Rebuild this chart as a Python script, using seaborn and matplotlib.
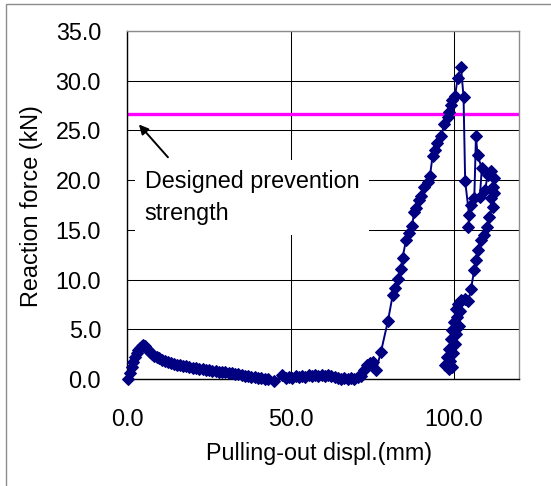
import matplotlib
matplotlib.use("Agg")
import matplotlib.pyplot as plt
from matplotlib.patches import Rectangle
import seaborn as sns
import pandas as pd

# ---- data ----
displ_mm = [
    0.2, 0.8, 1.3, 1.8, 2.3, 2.8, 3.3, 3.8, 4.3, 4.8, 5.3, 5.8, 6.3, 6.9, 7.5,
    8.2, 9.0, 9.8, 10.6, 11.5, 12.4, 13.3, 14.2, 15.1, 16.0, 17.0, 18.0, 19.0,
    20.0, 21.0, 22.0, 23.0, 24.0, 25.0, 26.0, 27.0, 28.0, 29.0, 30.0, 31.0,
    32.0, 33.0, 34.0, 35.0, 36.0, 37.0, 38.0, 39.0, 40.0, 41.0, 42.0, 43.0,
    44.8,
    47.5, 48.5, 49.5, 50.5, 51.5, 52.5, 53.5, 54.5, 55.5, 56.5, 57.5, 58.5,
    59.5, 60.5, 61.5, 62.5, 63.5, 64.5, 65.5, 66.5, 67.5, 68.5, 69.5, 70.5,
    71.5,
    72.6, 73.5, 74.2, 75.2, 76.2, 77.7, 79.8, 81.3, 82.1, 82.8, 83.8, 84.3,
    85.4, 86.4, 87.2, 87.9, 88.4, 89.4, 90.0, 91.0, 92.0, 92.7, 93.5, 94.2,
    95.0, 96.1, 97.1, 98.1, 98.6, 99.1, 99.6, 100.4, 101.2, 102.2, 103.0,
    103.5, 104.7, 104.5, 105.3, 106.3, 106.8, 107.3, 108.6, 108.0, 109.5,
    110.5, 111.4, 112.4, 111.9, 112.4, 111.4, 111.9, 110.9, 110.3, 109.3,
    108.3, 107.3, 106.8, 106.3, 105.3, 104.5, 103.5, 102.3, 101.3, 100.6,
    102.0, 101.0, 100.0, 101.5, 99.5, 100.8, 99.3, 100.3, 98.5, 99.7, 97.8,
    99.0, 97.3, 98.5, 99.5,
]
force_kN = [
    0.0, 0.6, 1.2, 1.7, 2.2, 2.6, 2.9, 3.1, 3.3, 3.4, 3.3, 3.1, 2.9, 2.7, 2.5,
    2.3, 2.2, 2.1, 1.9, 1.8, 1.7, 1.6, 1.5, 1.45, 1.4, 1.35, 1.3, 1.2,
    1.15, 1.1, 1.05, 1.0, 0.95, 0.9, 0.85, 0.8, 0.75, 0.75, 0.7, 0.65,
    0.6, 0.55, 0.5, 0.4, 0.35, 0.3, 0.25, 0.2, 0.15, 0.1, 0.05, 0.05,
    -0.25,
    0.4, 0.1, 0.2, 0.1, 0.3, 0.2, 0.35, 0.25, 0.4, 0.3, 0.4, 0.35,
    0.45, 0.3, 0.4, 0.3, 0.2, 0.1, 0.0, 0.1, 0.05, 0.1, 0.0, 0.2,
    0.3,
    0.9, 1.4, 1.6, 1.75, 0.9, 2.75, 5.8, 8.45, 9.2, 10.1, 11.1, 12.2,
    14.0, 14.7, 15.4, 16.8, 17.2, 18.0, 18.4, 19.3, 19.85, 20.4, 22.4, 23.0,
    23.7, 24.4, 25.6, 26.4, 26.9, 27.6, 28.1, 28.5, 30.25, 31.4, 28.4,
    19.9, 16.5, 15.3, 17.5, 18.2, 24.4, 22.5, 21.2, 18.3, 19.0,
    20.5, 20.9, 20.2, 19.3, 18.7, 18.2, 17.3, 16.3, 15.3, 14.5,
    14.0, 13.0, 12.0, 11.0, 9.1, 7.8, 8.0, 7.9, 7.5, 7.0,
    6.8, 6.2, 5.7, 5.3, 4.9, 4.5, 4.0, 3.5, 3.0, 2.6, 2.2,
    1.8, 1.4, 1.0, 1.2,
]
design_strength_kN = 26.7
x_ticks = [0, 50, 100]
x_tick_labels = ["0.0", "50.0", "100.0"]
y_ticks = [0, 5, 10, 15, 20, 25, 30, 35]
y_tick_labels = ["0.0", "5.0", "10.0", "15.0", "20.0", "25.0", "30.0", "35.0"]
x_label = "Pulling-out displ.(mm)"
y_label = "Reaction force (kN)"
note_text = "Designed prevention\nstrength"

df = pd.DataFrame({"displ": displ_mm, "force": force_kN})

sns.set_theme(style="white")
plt.rcParams["font.family"] = ["Liberation Sans", "DejaVu Sans"]

W, H = 551, 486
fig = plt.figure(figsize=(W / 100, H / 100), dpi=100)
ax = fig.add_axes([127.5 / W, 1 - 379 / H, (519 - 127.5) / W, (379 - 31) / H])

# outer chart border
fig.patches.append(Rectangle((5.5 / W, -0.05), 1.1, 1 - 4.5 / H + 0.05,
                             transform=fig.transFigure, fill=False,
                             edgecolor="#8c8c8c", linewidth=1.0))

ax.set_xlim(0, 120)
ax.set_ylim(0, 35)
ax.set_xticks(x_ticks)
ax.set_xticklabels(x_tick_labels)
ax.set_yticks(y_ticks)
ax.set_yticklabels(y_tick_labels)
ax.tick_params(axis="both", length=0, labelsize=16.8, colors="black")
ax.tick_params(axis="y", pad=19)
ax.tick_params(axis="x", pad=21)

ax.grid(True, color="black", linewidth=0.75, zorder=0)
ax.set_axisbelow(True)
for side in ["top", "right"]:
    ax.spines[side].set_color("#8c8c8c")
    ax.spines[side].set_linewidth(1.0)
for side in ["left", "bottom"]:
    ax.spines[side].set_color("black")
    ax.spines[side].set_linewidth(1.0)

ax.axhline(design_strength_kN, color="#ff00ff", linewidth=2.4, zorder=2)

sns.lineplot(data=df, x="displ", y="force", sort=False, estimator=None,
             ax=ax, color="#000080", linewidth=1.4, marker="D",
             markersize=6.6, markeredgecolor="#000080", zorder=3,
             clip_on=False)
ax.set_xlabel("")
ax.set_ylabel("")

ax.annotate("", xy=(3.5, 25.6), xytext=(12.4, 22.3),
            arrowprops=dict(arrowstyle="-|>", color="black", lw=1.4,
                            mutation_scale=14, shrinkA=0, shrinkB=0),
            zorder=4)
ax.text(5.3, 18.25, note_text, fontsize=16.8, ha="left", va="center",
        linespacing=1.5, color="black", zorder=4,
        bbox=dict(facecolor="white", edgecolor="none", pad=7))

fig.text(32 / W, 1 - 206 / H, y_label, rotation=90, ha="center",
         va="center", fontsize=16.8, color="black")
fig.text(319 / W, 1 - 453 / H, x_label, ha="center", va="center",
         fontsize=16.8, color="black")

fig.savefig("out.png", dpi=100)
